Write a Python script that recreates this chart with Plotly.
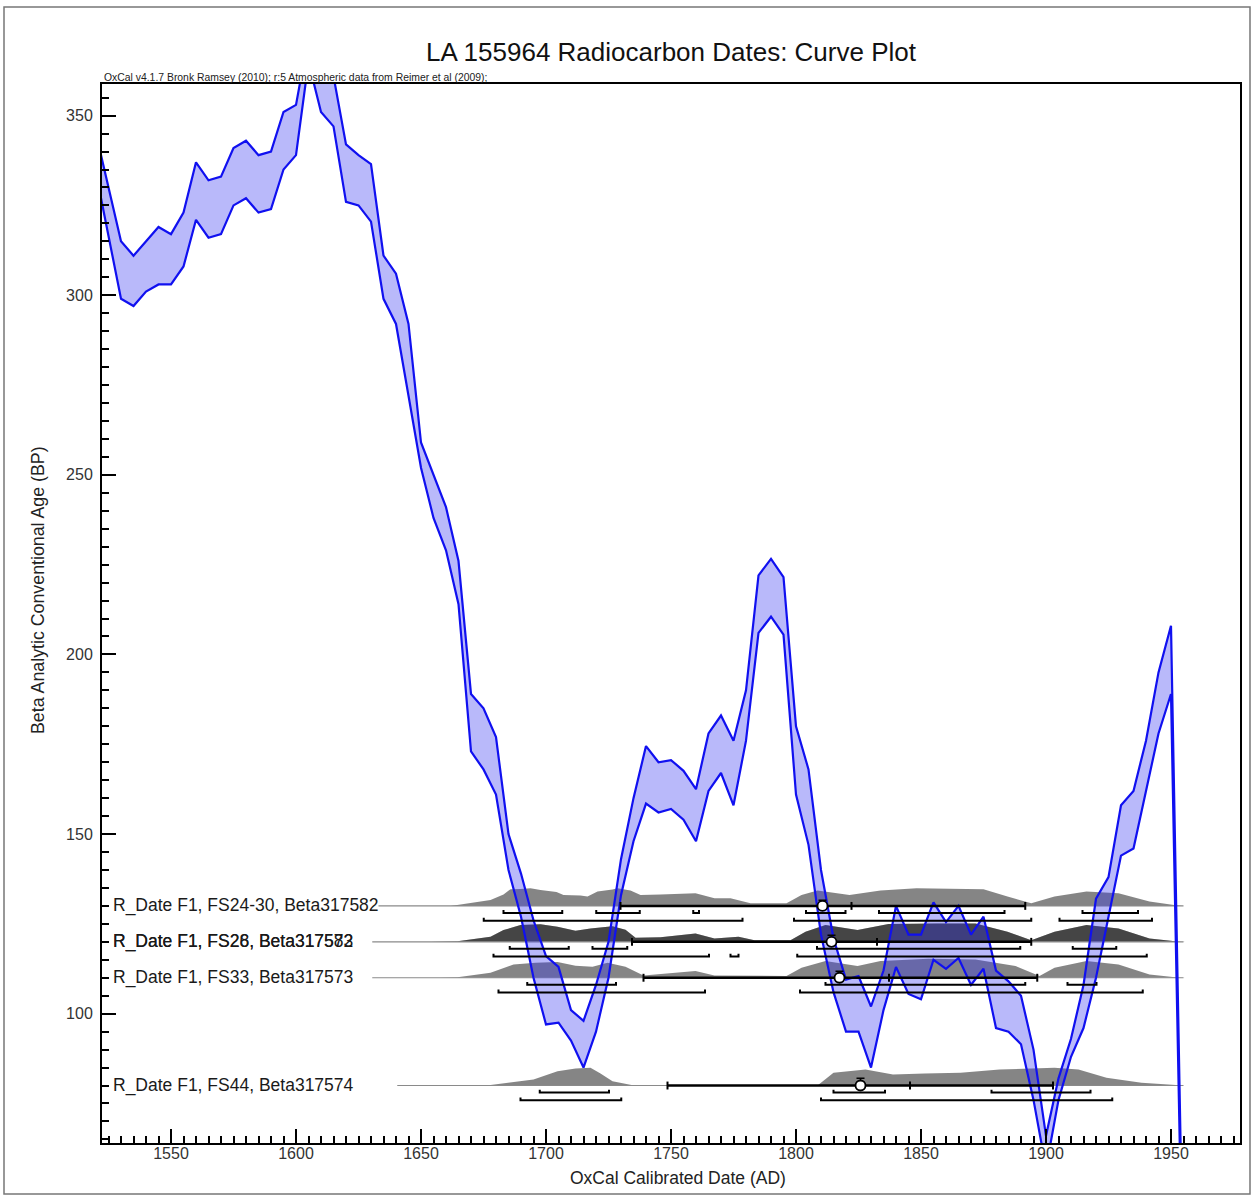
import plotly.graph_objects as go

# ---------------- data ----------------
cal_years = list(range(1520, 1960, 5))
cal_upper = [345, 330, 315, 311, 315, 319, 317, 323, 337, 332, 333, 341, 343, 339, 340, 351, 353,
             372, 368, 361, 342, 339, 336.5, 311, 306, 292, 259, 250, 241, 226, 189, 185, 177,
             150, 139, 126, 116, 113, 101, 98, 108, 120, 143, 160, 174.5, 170, 170.6, 167.6, 162.5,
             178, 183, 176, 190, 222, 226.6, 221.5, 180, 168, 140, 121, 109.5, 110.5, 102, 112, 130,
             122, 122, 131, 125.5, 130, 122, 127, 112, 109, 105, 90, 66, 82, 93, 108, 132, 138, 158,
             162, 176, 195, 208, 20]
cal_lower = [334, 317, 299, 297, 301, 303, 303, 308, 321, 316, 317, 325, 327, 323, 324, 335, 339,
             365, 351, 347, 326, 325, 320.5, 299, 292, 272, 252, 238, 229, 214, 173, 168, 161,
             140, 127, 110, 97, 97.5, 92.5, 85, 95, 110, 133, 148, 158.5, 156, 157, 154, 148,
             162, 167, 158, 176, 206, 210.5, 205.5, 161, 147, 122, 106, 95, 95, 85, 101, 113,
             105.5, 104, 115, 112.5, 115.5, 108, 112.5, 96, 95, 91.5, 76, 57, 76, 88, 96, 110, 127, 144,
             146, 162, 178, 189, 10]

row_labels = [["R_Date F1, FS24-30, Beta317582"],
              ["R_Date F1, FS26, Beta317583", "R_Date F1, FS28, Beta317572"],
              ["R_Date F1, FS33, Beta317573"],
              ["R_Date F1, FS44, Beta317574"]]
row_bp = [130, 120, 110, 80]
row_line_start = [1633, 1630.5, 1630.5, 1640.5]
row_line_end = 1955

dist_years = [
    [1661.8, 1677.8, 1683.0, 1685.8, 1689.8, 1693.8, 1697.8, 1704.2, 1707.0, 1713.8, 1716.6, 1720.6,
     1726.6, 1728.6, 1733.8, 1737.8, 1745.8, 1759.8, 1767.4, 1773.8, 1781.8, 1796.2, 1802.2, 1808.6,
     1821.4, 1833.8, 1848.2, 1875.0, 1884.6, 1894.1, 1903.4, 1916.2, 1929.0, 1941.4, 1952.6, 1955.0],
    [1653.8, 1664.6, 1677.8, 1683.0, 1689.8, 1697.8, 1704.6, 1711.8, 1717.8, 1726.6, 1731.8, 1735.8,
     1745.8, 1759.8, 1767.4, 1777.0, 1783.4, 1797.8, 1803.8, 1811.8, 1824.6, 1837.0, 1856.2, 1871.8,
     1884.6, 1894.1, 1903.4, 1916.2, 1929.0, 1941.4, 1952.6, 1955.8],
    [1657.8, 1664.6, 1677.8, 1687.0, 1695.8, 1704.6, 1711.8, 1718.6, 1724.6, 1731.8, 1739.0, 1745.8,
     1759.8, 1767.4, 1781.8, 1796.2, 1802.2, 1811.8, 1824.6, 1833.8, 1853.0, 1871.8, 1887.8, 1897.4,
     1903.4, 1916.2, 1929.0, 1941.4, 1952.6, 1955.8],
    [1669.8, 1677.8, 1695.0, 1704.6, 1711.8, 1717.8, 1721.8, 1726.6, 1734.2, 1737.8, 1808.6, 1815.0,
     1827.8, 1838.8, 1851.4, 1865.8, 1881.4, 1903.4, 1913.0, 1924.2, 1938.2, 1951.0, 1955.0],
]
dist_dens = [
    [0, 6, 11.5, 16.7, 17, 17.7, 15.8, 14, 11, 10.5, 9.5, 14.3, 16.5, 17.7, 15.3, 11, 11.5, 12.7, 7.7,
     7.7, 2.7, 2.7, 11, 15.3, 11, 15.3, 17.7, 16.7, 9.3, 2.7, 9.3, 14.3, 12.7, 4.3, 0.5, 0],
    [0, 0.5, 5, 11.7, 16.7, 17.5, 15, 11, 13.3, 15.5, 12, 4, 4.5, 8.3, 3.3, 5, 1.7, 1.7, 10, 16.7,
     11.7, 17.7, 18.3, 18.3, 10, 1.7, 10, 16.7, 13.3, 3.3, 0.3, 0],
    [0, 0.5, 5, 13.3, 15, 15.7, 12, 11, 15, 11, 2.3, 3.5, 6.7, 2.3, 1.7, 1.7, 10, 16.7, 11.7, 16.7,
     19, 18.3, 11.7, 1.7, 10, 16.7, 13.3, 3.3, 0.3, 0],
    [0, 0.5, 6, 14.3, 17, 17.7, 12, 4.3, 0.5, 0, 0, 12.7, 16, 11, 12, 12.7, 16, 17.7, 16, 7.7, 2.7,
     0.3, 0],
]

sigma2_lo = [1729.8, 1734.4, 1739.0, 1748.6]
sigma2_hi = [1891.7, 1894.1, 1896.5, 1902.8]
inner_tick = [1822.2, 1832.4, 1837.2, 1845.6]
mean_date = [1810.6, 1814.2, 1817.4, 1825.8]
mean_err = [1.6, 1.8, 1.8, 2.0]

range68 = [
    [(1683.0, 1706.5), (1720.1, 1737.5), (1758.9, 1761.2), (1804.0, 1819.8), (1833.2, 1883.4), (1914.6, 1936.8)],
    [(1685.5, 1709.1), (1718.6, 1732.5), (1808.4, 1889.7), (1910.7, 1928.1)],
    [(1692.5, 1728.0), (1811.8, 1891.7), (1908.6, 1920.2)],
    [(1697.5, 1725.2), (1815.0, 1835.6), (1878.2, 1917.8)],
]
range95 = [
    [(1675.1, 1778.6), (1799.2, 1894.1), (1905.4, 1942.4)],
    [(1679.0, 1765.2), (1773.8, 1777.0), (1800.5, 1940.3)],
    [(1681.0, 1763.6), (1801.6, 1938.7)],
    [(1689.8, 1730.1), (1810.0, 1926.5)],
]

# ---------------- style ----------------
FONT = "Liberation Sans, Arial, sans-serif"
DENS_SCALE = 5.3 / 19.0      # BP units per density unit
OFF68, OFF95 = 1.95, 4.1     # bracket offsets below baseline (BP)
BR_TICK = 0.8
END_TICK = 1.1

fig = go.Figure()

# distributions
for i, base in enumerate(row_bp):
    xs = dist_years[i] + dist_years[i][::-1]
    ys = [base + d * DENS_SCALE for d in dist_dens[i]] + [base] * len(dist_years[i])
    for _ in row_labels[i]:
        fig.add_trace(go.Scatter(x=xs, y=ys, mode="lines", fill="toself",
                                 fillcolor="rgba(0,0,0,0.48)", line=dict(width=0),
                                 hoverinfo="skip", showlegend=False))
    fig.add_trace(go.Scatter(x=[row_line_start[i], row_line_end], y=[base, base], mode="lines",
                             line=dict(color="#8a8a8a", width=1.2), hoverinfo="skip", showlegend=False))

# calibration curve
fig.add_trace(go.Scatter(x=cal_years, y=cal_lower, mode="lines",
                         line=dict(color="#1010f0", width=2.2), showlegend=False))
fig.add_trace(go.Scatter(x=cal_years, y=cal_upper, mode="lines", fill="tonexty",
                         fillcolor="rgba(50,50,240,0.34)",
                         line=dict(color="#1010f0", width=2.2), showlegend=False))

# 2-sigma lines with ticks
for i, base in enumerate(row_bp):
    fig.add_trace(go.Scatter(x=[sigma2_lo[i], sigma2_hi[i]], y=[base, base], mode="lines",
                             line=dict(color="black", width=2.5), showlegend=False, hoverinfo="skip"))
    tx, ty = [], []
    for t in (sigma2_lo[i], inner_tick[i], sigma2_hi[i]):
        tx += [t, t, None]
        ty += [base - END_TICK, base + END_TICK, None]
    fig.add_trace(go.Scatter(x=tx, y=ty, mode="lines", line=dict(color="black", width=2),
                             showlegend=False, hoverinfo="skip"))

# range brackets
for i, base in enumerate(row_bp):
    for ranges, off in ((range68[i], OFF68), (range95[i], OFF95)):
        bx, by = [], []
        yb = base - off
        for a, b in ranges:
            bx += [a, a, b, b, None]
            by += [yb + BR_TICK, yb, yb, yb + BR_TICK, None]
        fig.add_trace(go.Scatter(x=bx, y=by, mode="lines", line=dict(color="black", width=2),
                                 showlegend=False, hoverinfo="skip"))

# mean markers
fig.add_trace(go.Scatter(x=mean_date, y=row_bp, mode="markers",
                         marker=dict(symbol="circle", size=10, color="white",
                                     line=dict(color="black", width=1.8)),
                         error_y=dict(type="data", symmetric=False, array=mean_err,
                                      arrayminus=[0] * len(mean_err), color="black",
                                      thickness=1.5, width=4),
                         showlegend=False, hoverinfo="skip"))

# labels
ann = []
for i, base in enumerate(row_bp):
    for lab in row_labels[i]:
        ann.append(dict(x=1526.0, y=base, xref="x", yref="y", text=lab, showarrow=False,
                        xanchor="left", yanchor="middle",
                        font=dict(family=FONT, size=17.5, color="#1a1a1a")))

W, H = 1253, 1197
L, R, T, B = 102, 13, 84, 54
pw, ph = W - L - R, H - T - B

def px(x):
    return (x - L) / pw

def py(y):
    return (H - B - y) / ph

ann += [
    dict(x=0.5, y=py(52), xref="paper", yref="paper", text="LA 155964 Radiocarbon Dates: Curve Plot",
         showarrow=False, xanchor="center", yanchor="middle",
         font=dict(family=FONT, size=26, color="#111")),
    dict(x=0, y=py(85), xref="paper", yref="paper",
         text="OxCal v4.1.7 Bronk Ramsey (2010); r:5 Atmospheric data from Reimer et al (2009);",
         showarrow=False, xanchor="left", yanchor="bottom",
         font=dict(family=FONT, size=10.4, color="#222")),
    dict(x=px(678), y=py(1178), xref="paper", yref="paper", text="OxCal Calibrated Date (AD)",
         showarrow=False, xanchor="center", yanchor="middle",
         font=dict(family=FONT, size=17.5, color="#222")),
    dict(x=px(38), y=py(590), xref="paper", yref="paper", text="Beta Analytic Conventional Age (BP)",
         showarrow=False, xanchor="center", yanchor="middle", textangle=-90,
         font=dict(family=FONT, size=17.8, color="#222")),
]

axis_common = dict(showline=True, linewidth=2, linecolor="black", mirror=True,
                   ticks="inside", ticklen=14, tickwidth=2, tickcolor="black",
                   showgrid=False, zeroline=False, dtick=50,
                   tickfont=dict(family=FONT, size=16, color="#333"),
                   minor=dict(ticks="inside", dtick=5, ticklen=7, tickwidth=1.5,
                              tickcolor="black", showgrid=False))

fig.update_layout(
    width=W, height=H,
    margin=dict(l=L, r=R, t=T, b=B),
    paper_bgcolor="white", plot_bgcolor="white",
    xaxis=dict(range=[1522.4, 1977.6], tick0=1550, ticklabelstandoff=-5, **axis_common),
    yaxis=dict(range=[64, 358.8], tick0=0, ticklabelstandoff=4, **axis_common),
    annotations=ann,
    shapes=[dict(type="rect", xref="paper", yref="paper",
                 x0=px(4), x1=px(1250), y0=py(1194), y1=py(7),
                 line=dict(color="#777", width=1.5), fillcolor="rgba(0,0,0,0)", layer="below")],
    showlegend=False,
)

fig.write_html("out.html")
